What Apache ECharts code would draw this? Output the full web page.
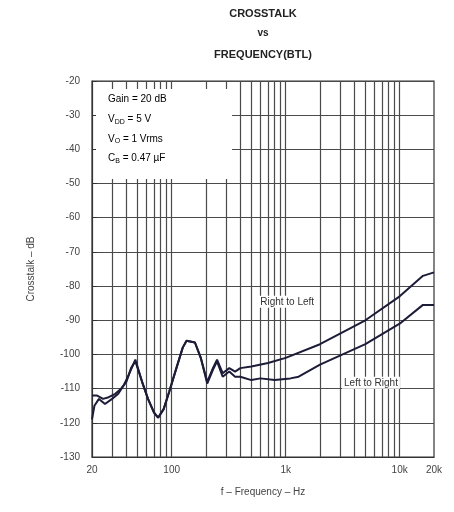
<!DOCTYPE html>
<html><head><meta charset="utf-8">
<script src="https://cdn.jsdelivr.net/npm/echarts@6/dist/echarts.min.js"></script>
<style>html,body{margin:0;padding:0;background:#fff}#c{width:454px;height:512px}</style>
</head><body><div id="c"></div>
<script>
// Right to Left (upper curve at high frequency)
const freqRL = [20,22,25,28,32,36,40,44,48,55,62,70,76,85,95,110,125,135,160,180,205,230,250,280,320,360,400,500,700,1000,2000,5000,10000,16000,20000];
const xtalkRL = [-112,-112,-113,-112.5,-111.5,-110,-108,-104,-102,-108,-113,-117,-118.5,-116,-111,-104,-98,-96,-96.5,-101,-108,-104,-101.5,-105.5,-104,-105,-104,-103.5,-102.5,-101,-97,-90,-83,-77,-76];
// Left to Right (lower curve at high frequency)
const freqLR = [20,21,23,26,30,34,38,42,48,55,62,70,76,85,95,110,125,135,160,180,205,230,250,280,320,360,400,500,600,800,1100,1300,2000,5000,10000,16000,20000];
const xtalkLR = [-119,-115,-113,-114.5,-113,-111.5,-109,-106,-101.5,-108,-113,-117,-118.5,-116,-111,-104,-98,-96,-96.5,-101,-108.5,-104.5,-102,-106.5,-105,-106.5,-106.5,-107.5,-107,-107.5,-107,-106.5,-103,-97,-91,-85.5,-85.5];
// vertical grid positions (Hz)
const gridFreqs = [30,40,50,60,70,80,90,100,200,300,400,500,600,700,800,900,1000,2000,3000,4000,5000,6000,7000,8000,9000,10000];
const xLabelMap = {20:'20',100:'100',1000:'1k',10000:'10k',20000:'20k'};
const yMin = -130, yMax = -20, yStep = 10;
const curveLabels = [
  {name:'Right to Left', f:1030, v:-84.6},
  {name:'Left to Right', f:5600, v:-108.3}
];
const notes = [
  [['a','Gain = 20 dB']],
  [['a','V'],['s','DD'],['a',' = 5 V']],
  [['a','V'],['s','O'],['a',' = 1 Vrms']],
  [['a','C'],['s','B'],['a',' = 0.47 µF']]
];

const chart = echarts.init(document.getElementById('c'), null, {renderer:'canvas'});
const toPairs = (xs, ys) => xs.map((x,i)=>[x, ys[i]]);
const lineColor = '#1c1c38';
const gridColor = '#4a4a4a';

const graphic = [
  {type:'text', x:263, y:8, style:{text:'CROSSTALK', font:'bold 11px "Liberation Sans", Arial', fill:'#222', textAlign:'center'}},
  {type:'text', x:263, y:28, style:{text:'vs', font:'bold 10px "Liberation Sans", Arial', fill:'#222', textAlign:'center'}},
  {type:'text', x:263, y:49, style:{text:'FREQUENCY(BTL)', font:'bold 11px "Liberation Sans", Arial', fill:'#222', textAlign:'center'}},
  {type:'rect', z:100, shape:{x:96, y:89, width:136, height:90}, style:{fill:'#fff'}}
];
notes.forEach((parts, i) => {
  graphic.push({type:'text', z:101, x:108, y:94 + i*19.5, style:{
    text: parts.map(p => '{' + p[0] + '|' + p[1] + '}').join(''),
    rich:{a:{fontSize:10, fontFamily:'Liberation Sans', color:'#444'}, s:{fontSize:7, fontFamily:'Liberation Sans', color:'#444', padding:[5,0,0,0]}}
  }});
});

chart.setOption({
  animation:false,
  backgroundColor:'#fff',
  graphic: graphic,
  grid:{left:92, right:20, top:81, bottom:55, show:true, borderColor:'#333', borderWidth:1.2, backgroundColor:'#fff'},
  xAxis:{
    type:'log', logBase:10, min:20, max:20000,
    name:'f – Frequency – Hz', nameLocation:'middle', nameGap:30,
    nameTextStyle:{fontSize:10, color:'#444', fontFamily:'Liberation Sans'},
    axisLine:{show:true, lineStyle:{color:'#333', width:1.2}},
    axisTick:{show:false},
    splitLine:{show:false},
    axisLabel:{fontSize:10, color:'#444', fontFamily:'Liberation Sans', margin:8,
      showMinLabel:true, showMaxLabel:true,
      formatter: v => { const k = Math.round(v); return xLabelMap[k] !== undefined ? xLabelMap[k] : ''; }}
  },
  yAxis:{
    type:'value', min:yMin, max:yMax, interval:yStep,
    name:'Crosstalk – dB', nameLocation:'middle', nameGap:56, nameRotate:90,
    nameTextStyle:{fontSize:10, color:'#444', fontFamily:'Liberation Sans'},
    axisLine:{show:true, lineStyle:{color:'#333', width:1.2}},
    axisTick:{show:true, inside:true, length:5, lineStyle:{color:'#333'}},
    splitLine:{show:true, lineStyle:{color:gridColor, width:1.2}},
    axisLabel:{fontSize:10, color:'#444', fontFamily:'Liberation Sans', margin:12}
  },
  series:[
    {
      name:'Right to Left', type:'line', data:toPairs(freqRL, xtalkRL), showSymbol:false, symbol:'none',
      lineStyle:{color:lineColor, width:2}, z:5,
      markLine:{silent:true, symbol:'none', label:{show:false},
        lineStyle:{color:gridColor, width:1.2, type:'solid'},
        data: gridFreqs.map(f => ({xAxis:f}))},
      markPoint:{silent:true, symbol:'rect', symbolSize:1, itemStyle:{color:'rgba(0,0,0,0)'},
        label:{show:true, fontSize:10, color:'#333', fontFamily:'Liberation Sans', backgroundColor:'#fff', padding:[1,2],
          formatter: p => p.name},
        data: curveLabels.map(c => ({name:c.name, coord:[c.f, c.v]}))}
    },
    {
      name:'Left to Right', type:'line', data:toPairs(freqLR, xtalkLR), showSymbol:false, symbol:'none',
      lineStyle:{color:lineColor, width:2}, z:5
    }
  ]
});
</script></body></html>
